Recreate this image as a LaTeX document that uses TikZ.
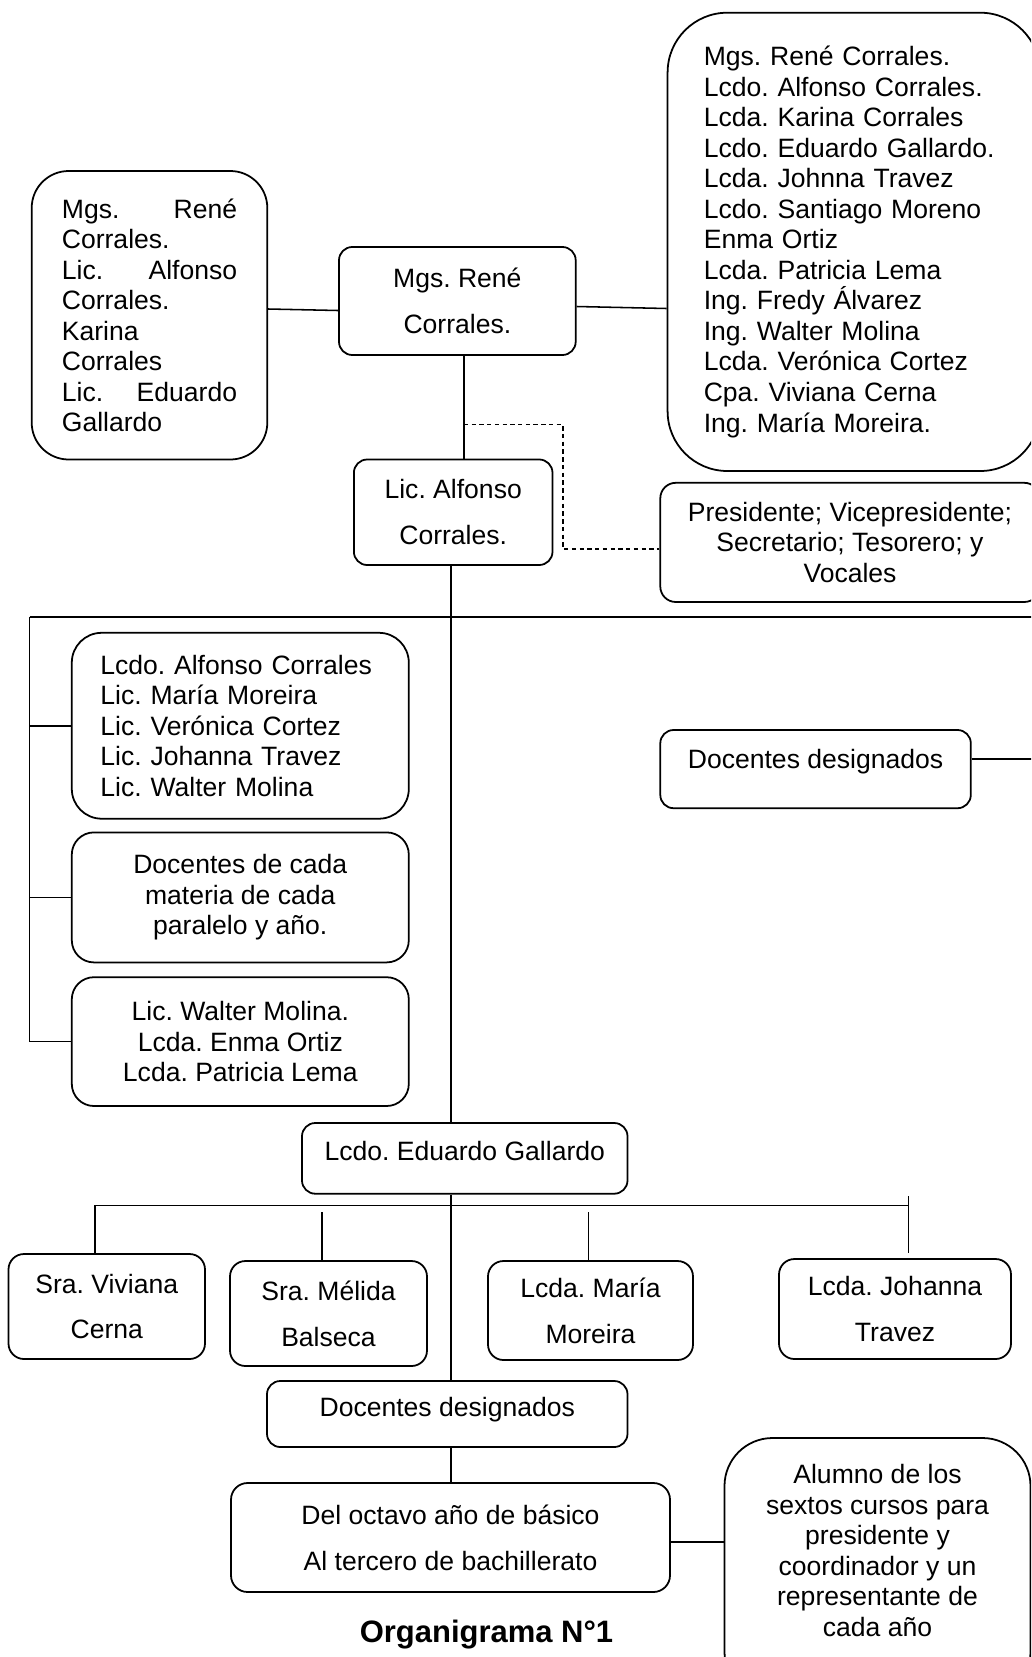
\documentclass[tikz,border=0pt]{standalone}
\usepackage{fontspec}
\setmainfont{Liberation Sans}
\usepackage{tikz}
\frenchspacing
\newcommand{\sencillo}{\fontsize{12}{13.8}\selectfont}
\newcommand{\amplio}{\fontsize{12}{20.7}\selectfont}

\begin{document}
\begin{tikzpicture}[x=0.452pt, y=-0.452pt,
  caja/.style 2 args={rectangle, draw=black, line width=0.8pt, inner sep=0pt, align=center,
    font=\sencillo, minimum width=#1*0.452pt, minimum height=#2*0.452pt},
  lista/.style={align=left, text width=#1},
  doble/.style={font=\amplio},
  linea/.style={draw=black, line width=0.7pt},
  enlace/.style={draw=black, line width=0.6pt, dash pattern=on 2pt off 1.5pt},
  titulo/.style={font=\fontsize{14}{16}\selectfont\bfseries}
]
\useasboundingbox (0,0) rectangle (1031,1657);
\clip (0,0) rectangle (1031,1657);

\node[caja={235.6}{288.5}, lista=79.2pt, rounded corners=16.7pt] (juntaizq) at (149.5,315.25)
  {Mgs.\hfill René\\Corrales.\\Lic.\hfill Alfonso\\Corrales.\\Karina\\Corrales\\Lic.\hfill Eduardo\\Gallardo};
\node[caja={236.7}{108}, doble, rounded corners=6pt] (rector) at (457.35,301) {Mgs. René\\Corrales.};
\node[caja={372.4}{458.3}, lista=135.6pt, rounded corners=27pt] (consejo) at (853.8,241.85)
  {Mgs. René Corrales.\\Lcdo. Alfonso Corrales.\\Lcda. Karina Corrales\\Lcdo. Eduardo Gallardo.\\Lcda. Johnna Travez\\Lcdo. Santiago Moreno\\Enma Ortiz\\Lcda. Patricia Lema\\Ing. Fredy Álvarez\\Ing. Walter Molina\\Lcda. Verónica Cortez\\Cpa. Viviana Cerna\\Ing. María Moreira.};
\node[caja={198.6}{105.5}, doble, rounded corners=6pt] (vicerrector) at (453.2,512.25) {Lic. Alfonso\\Corrales.};
\node[caja={379.4}{119.2}, rounded corners=7pt] (directiva) at (850,542.4)
  {Presidente; Vicepresidente;\\Secretario; Tesorero; y\\Vocales};

\node[caja={337}{185.9}, lista=126.5pt, rounded corners=13.5pt] (comisiones) at (240.3,725.75)
  {Lcdo. Alfonso Corrales\\Lic. María Moreira\\Lic. Verónica Cortez\\Lic. Johanna Travez\\Lic. Walter Molina};
\node[caja={337}{130}, rounded corners=10pt] (docmaterias) at (240.3,897.4) {Docentes de cada\\materia de cada\\paralelo y año.};
\node[caja={337}{128.8}, rounded corners=10pt] (tutores) at (240.3,1041.6) {Lic. Walter Molina.\\Lcda. Enma Ortiz\\Lcda. Patricia Lema};
\node[caja={310.5}{78.2}, rounded corners=6pt, text height=8.6pt, text depth=9.2pt] (docder) at (815.55,769.1) {Docentes designados};

\node[caja={325.5}{70.7}, rounded corners=6pt, text height=8.6pt, text depth=6.8pt] (inspector) at (464.75,1158.35) {Lcdo. Eduardo Gallardo};
\node[caja={196.5}{105}, doble, rounded corners=7pt] (secre) at (106.75,1306.5) {Sra. Viviana\\Cerna};
\node[caja={197}{105}, doble, rounded corners=7pt] (colecturia) at (328.5,1313.5) {Sra. Mélida\\Balseca};
\node[caja={205}{99}, doble, rounded corners=7pt] (dobe) at (590.5,1310.5) {Lcda. María\\Moreira};
\node[caja={232}{100}, doble, rounded corners=7pt] (biblio) at (895,1309) {Lcda. Johanna\\Travez};
\node[caja={360.5}{66}, rounded corners=6pt, text height=8.6pt, text depth=6pt] (docdes) at (447.25,1414) {Docentes designados};
\node[caja={439}{109}, doble, rounded corners=7.5pt] (estud) at (450.5,1537.5) {Del octavo año de básico\\Al tercero de bachillerato};
\node[caja={306}{262}, rounded corners=21.7pt, text depth=17pt] (gobierno) at (877.5,1569)
  {Alumno de los\\sextos cursos para\\presidente y\\coordinador y un\\representante de\\cada año};
\node[titulo] (titulo) at (486.5,1635) {Organigrama N°1};

\coordinate (cruce) at (463.8,424.7);
\coordinate (barraizq) at (29.6,617);
\coordinate (barrader) at (1045,617);
\coordinate (ramaizq) at (95,1205.4);
\coordinate (ramader) at (908.5,1205.4);

\draw[linea] (juntaizq.east |- 0,309) -- (rector.west |- 0,310.5);
\draw[linea] (rector.east |- 0,306.5) -- (consejo.west |- 0,308.5);
\draw[linea] (rector.south -| cruce) -- (vicerrector.north -| cruce);
\draw[enlace] (cruce) -| (563,549) -- (directiva.west |- 0,549);
\draw[linea] (vicerrector.south -| 451,0) -- (inspector.north -| 451,0);
\draw[linea] (barraizq) -- (barrader);
\draw[linea] (barraizq) |- (tutores.west);
\draw[linea] (barraizq |- comisiones.west) -- (comisiones.west);
\draw[linea] (barraizq |- docmaterias.west) -- (docmaterias.west);
\draw[linea] (docder.east |- 0,759) -- ++(80,0);
\draw[linea] (ramaizq) -- (ramader);
\draw[linea] (ramaizq) -- (secre.north -| ramaizq);
\draw[linea] (colecturia.north -| 322,0) -- ++(0,-48.3);
\draw[linea] (dobe.north -| 588.4,0) -- ++(0,-48.3);
\draw[linea] (ramader |- 0,1196) -- (ramader |- 0,1253);
\draw[linea] (inspector.south -| 451,0) -- (docdes.north -| 451,0);
\draw[linea] (docdes.south -| 451,0) -- (estud.north -| 451,0);
\draw[linea] (estud.east |- 0,1542) -- (gobierno.west |- 0,1542);

\end{tikzpicture}
\end{document}
